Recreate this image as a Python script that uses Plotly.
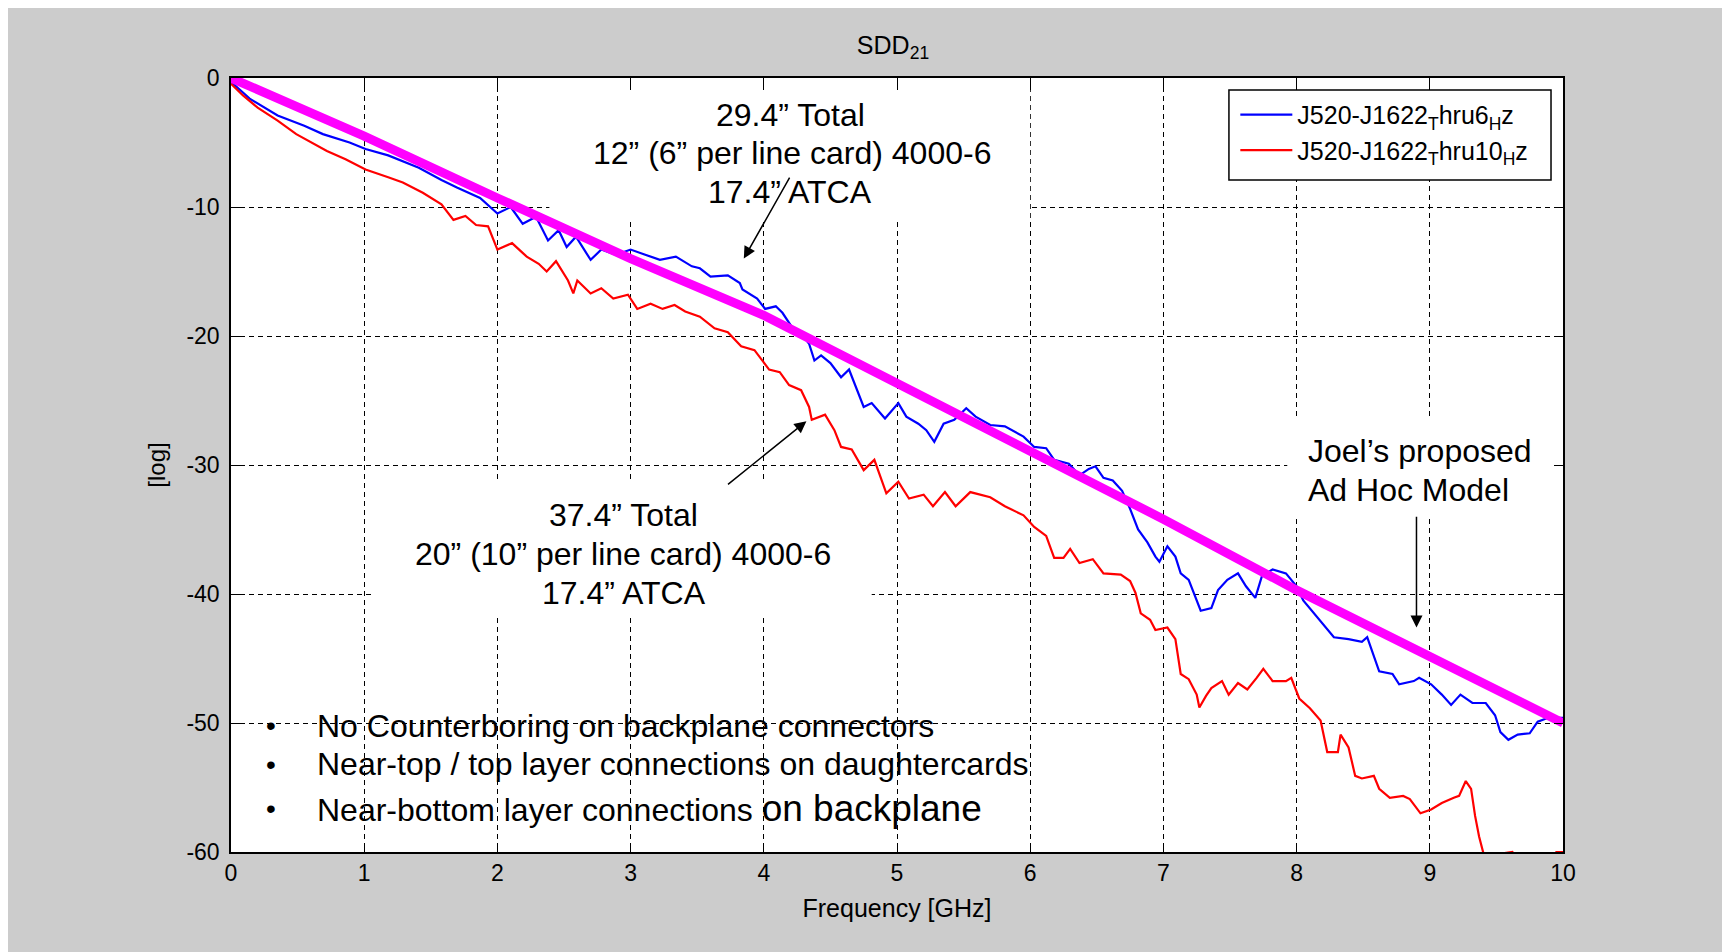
import plotly.graph_objects as go

# ---------------- data ----------------
freq_blue = [0.00, 0.14, 0.35, 0.55, 0.69, 0.89, 1.01, 1.18, 1.41, 1.58, 1.70, 1.87,
             2.00, 2.10, 2.19, 2.29, 2.38, 2.46, 2.52, 2.59, 2.70, 2.78, 2.89, 3.00,
             3.11, 3.22, 3.34, 3.46, 3.52, 3.60, 3.73, 3.82, 3.84, 3.95, 4.01, 4.09,
             4.14, 4.21, 4.28, 4.34, 4.38, 4.43, 4.50, 4.58, 4.64, 4.69, 4.75, 4.81,
             4.91, 5.01, 5.07, 5.16, 5.22, 5.28, 5.35, 5.43, 5.52, 5.59, 5.70, 5.81,
             5.95, 6.03, 6.12, 6.18, 6.29, 6.37, 6.44, 6.49, 6.55, 6.62, 6.69, 6.75,
             6.81, 6.88, 6.94, 6.97, 7.03, 7.09, 7.13, 7.19, 7.23, 7.28, 7.36, 7.41,
             7.48, 7.56, 7.62, 7.69, 7.74, 7.82, 7.92, 8.00, 8.05, 8.13, 8.20, 8.28,
             8.39, 8.49, 8.53, 8.59, 8.62, 8.72, 8.77, 8.88, 8.92, 9.01, 9.09, 9.16,
             9.23, 9.32, 9.42, 9.49, 9.53, 9.59, 9.66, 9.75, 9.81, 9.89, 10.0]
sdd_blue = [-0.3, -1.6, -2.9, -3.7, -4.35, -5.0, -5.5, -6.0, -6.95, -7.9, -8.5, -9.3,
            -10.5, -10.0, -11.3, -10.75, -12.6, -11.8, -13.1, -12.3, -14.1, -13.3, -13.7, -13.3,
            -13.7, -14.1, -13.85, -14.6, -14.75, -15.4, -15.3, -15.9, -16.4, -17.1, -17.9, -17.7,
            -18.2, -19.3, -19.8, -20.6, -21.9, -21.5, -22.1, -23.2, -22.6, -23.9, -25.5, -25.2,
            -26.4, -25.2, -26.25, -26.8, -27.3, -28.2, -26.8, -26.5, -25.6, -26.25, -26.9, -27.0,
            -27.8, -28.6, -28.7, -29.6, -29.9, -30.8, -30.3, -30.1, -31.0, -31.2, -32.0, -33.4,
            -35.0, -36.0, -37.1, -37.5, -36.3, -37.1, -38.4, -38.9, -39.9, -41.3, -41.1, -39.7,
            -38.9, -38.4, -39.4, -40.3, -38.6, -38.1, -38.4, -39.4, -40.5, -41.5, -42.3, -43.35,
            -43.5, -43.7, -43.35, -45.2, -46.0, -46.2, -47.0, -46.75, -46.5, -47.0, -47.8, -48.6,
            -47.8, -48.45, -48.45, -49.4, -50.7, -51.3, -50.9, -50.8, -49.9, -49.6, -49.6]

freq_red = [0.00, 0.09, 0.20, 0.35, 0.49, 0.60, 0.72, 0.86, 1.01, 1.18, 1.29, 1.44,
            1.58, 1.67, 1.76, 1.84, 1.93, 2.00, 2.11, 2.22, 2.31, 2.37, 2.44, 2.53,
            2.57, 2.60, 2.70, 2.78, 2.87, 2.98, 3.05, 3.15, 3.24, 3.33, 3.41, 3.52,
            3.63, 3.73, 3.83, 3.93, 4.04, 4.12, 4.19, 4.28, 4.34, 4.36, 4.46, 4.53,
            4.58, 4.66, 4.75, 4.83, 4.92, 5.01, 5.09, 5.20, 5.27, 5.36, 5.44, 5.55,
            5.70, 5.81, 5.95, 6.03, 6.12, 6.18, 6.25, 6.30, 6.37, 6.47, 6.55, 6.68,
            6.75, 6.79, 6.83, 6.90, 6.94, 7.03, 7.09, 7.13, 7.19, 7.25, 7.27, 7.32,
            7.36, 7.44, 7.49, 7.56, 7.63, 7.70, 7.75, 7.82, 7.92, 7.96, 8.02, 8.10,
            8.18, 8.23, 8.31, 8.33, 8.39, 8.44, 8.49, 8.58, 8.62, 8.70, 8.80, 8.85,
            8.93, 9.01, 9.09, 9.18, 9.22, 9.27, 9.31, 9.34, 9.37, 9.40, 9.45, 9.55,
            9.62, 9.70, 9.90, 9.95, 10.0]
sdd_red = [-0.45, -1.35, -2.3, -3.3, -4.35, -5.0, -5.65, -6.3, -7.1, -7.7, -8.1, -8.9,
           -9.8, -11.0, -10.7, -11.4, -11.5, -13.3, -12.8, -13.85, -14.4, -15.0, -14.2, -15.7,
           -16.7, -15.7, -16.7, -16.3, -17.1, -16.8, -17.9, -17.5, -17.9, -17.6, -18.1, -18.5,
           -19.4, -19.7, -20.8, -21.1, -22.6, -22.8, -23.8, -24.2, -25.5, -26.5, -26.1, -27.3,
           -28.6, -28.8, -30.4, -29.6, -32.2, -31.3, -32.6, -32.3, -33.2, -32.1, -33.2, -32.1,
           -32.5, -33.2, -33.9, -34.8, -35.5, -37.2, -37.2, -36.5, -37.6, -37.3, -38.4, -38.5,
           -39.0, -39.9, -41.5, -42.0, -42.8, -42.6, -43.5, -46.2, -46.6, -47.8, -48.8, -47.9,
           -47.3, -46.75, -47.8, -46.9, -47.4, -46.5, -45.8, -46.75, -46.75, -46.5, -48.1, -48.85,
           -49.8, -52.25, -52.25, -50.9, -51.9, -54.1, -54.3, -54.1, -55.1, -55.8, -55.65, -55.9,
           -57.0, -56.7, -56.2, -55.8, -55.65, -54.5, -55.1, -57.2, -58.8, -60.0, -61.0, -60.1,
           -60.0, -61.0, -61.0, -60.0, -60.0]

# Joel's proposed ad hoc model (magenta), read at every GHz
freq_model = [0, 1, 2, 3, 4, 5, 6, 7, 8, 9, 10]
sdd_model = [0.0, -4.5, -9.3, -14.0, -18.4, -23.7, -29.0, -34.2, -39.7, -44.8, -50.0]

series_names = ["J520-J1622<sub>T</sub>hru6<sub>H</sub>z",
                "J520-J1622<sub>T</sub>hru10<sub>H</sub>z"]

x_ticks = list(range(0, 11))
y_ticks = [0, -10, -20, -30, -40, -50, -60]

FONT = "Liberation Sans, Arial, sans-serif"

fig = go.Figure()
fig.add_trace(go.Scatter(x=freq_blue, y=sdd_blue, mode="lines", name=series_names[0],
                         line=dict(color="#0000ff", width=2.2)))
fig.add_trace(go.Scatter(x=freq_red, y=sdd_red, mode="lines", name=series_names[1],
                         line=dict(color="#ff0000", width=2.2)))
fig.add_trace(go.Scatter(x=freq_model, y=sdd_model, mode="lines", showlegend=False,
                         line=dict(color="#ff00ff", width=9)))

# white boxes behind the callout texts
boxes = [(2.39, 6.0, -11.0, -0.93), (1.06, 4.81, -41.6, -31.4), (7.93, 9.93, -34.1, -26.5)]
shapes = []
for x0, x1, y0, y1 in boxes:
    shapes.append(dict(type="rect", xref="x", yref="y", x0=x0, x1=x1, y0=y0, y1=y1,
                       fillcolor="white", line=dict(width=0), layer="between"))
# legend frame
shapes.append(dict(type="rect", xref="paper", yref="paper", x0=0.7492, x1=0.991,
                   y0=0.8682, y1=0.9845, fillcolor="white",
                   line=dict(color="black", width=1.5), layer="above"))
# white edge at the right of the picture
shapes.append(dict(type="rect", xref="paper", yref="paper", x0=1.1224, x1=1.2, y0=-0.2, y1=1.2,
                   fillcolor="white", line=dict(width=0), layer="below"))

ann = []
def txt(x, y, s, size=32, xanchor="center"):
    ann.append(dict(x=x, y=y, xref="x", yref="y", text=s, showarrow=False,
                    xanchor=xanchor, yanchor="middle",
                    font=dict(family=FONT, size=size, color="black")))

txt(4.20, -2.84, "29.4” Total")
txt(4.21, -5.84, "12” (6” per line card) 4000-6")
txt(4.20, -8.84, "17.4” ATCA")
txt(2.95, -33.9, "37.4” Total")
txt(2.94, -36.9, "20” (10” per line card) 4000-6")
txt(2.95, -39.9, "17.4” ATCA")
txt(8.07, -28.9, "Joel’s proposed", xanchor="left")
txt(8.07, -31.9, "Ad Hoc Model", xanchor="left")
for yy in (-50.2, -53.2, -56.6):
    txt(0.303, yy, "•", size=28)
txt(0.634, -50.2, "No Counterboring on backplane connectors", xanchor="left")
txt(0.634, -53.2, "Near-top / top layer connections on daughtercards", xanchor="left")
txt(0.634, -56.6, "Near-bottom layer connections <span style='font-size:37px'>on backplane</span>",
    xanchor="left")

def arrow(xt, yt, xs, ys):
    ann.append(dict(x=xt, y=yt, ax=xs, ay=ys, xref="x", yref="y", axref="x", ayref="y",
                    text="", showarrow=True, arrowhead=2, arrowsize=1.6, arrowwidth=1.5,
                    arrowcolor="black", standoff=0, startstandoff=0))

arrow(3.85, -14.0, 4.20, -7.6)
arrow(4.32, -26.6, 3.72, -31.6)
arrow(8.90, -42.6, 8.90, -33.9)

axis_common = dict(showgrid=True, gridcolor="black", gridwidth=1, griddash="5px,4px",
                   showline=True, linecolor="black", linewidth=1.5, mirror="ticks",
                   ticks="inside", ticklen=9, tickcolor="black", tickwidth=1,
                   zeroline=False, tickfont=dict(family=FONT, size=23, color="black"))

# the page body has an 8px margin: the figure is sized and offset to compensate
fig.update_layout(
    width=1722, height=944,
    margin=dict(l=223, r=167, t=70, b=100),
    paper_bgcolor="#cccccc", plot_bgcolor="white",
    font=dict(family=FONT, color="black"),
    title=dict(text="SDD<sub>21</sub>", x=0.497, xref="paper", xanchor="center",
               y=0.961, yref="container", yanchor="middle",
               font=dict(family=FONT, size=25, color="black")),
    xaxis=dict(range=[0, 10], tickvals=x_ticks, ticktext=[str(v) for v in x_ticks],
               title=dict(text="Frequency [GHz]", font=dict(family=FONT, size=25), standoff=14),
               **axis_common),
    yaxis=dict(range=[-60, 0], tickvals=y_ticks, ticktext=[str(v) for v in y_ticks],
               ticklabelstandoff=5,
               title=dict(text="[log]", font=dict(family=FONT, size=24), standoff=14),
               **axis_common),
    legend=dict(x=0.754, y=0.982, xanchor="left", yanchor="top",
                bgcolor="rgba(0,0,0,0)", borderwidth=0, itemwidth=52,
                font=dict(family=FONT, size=25, color="black")),
    shapes=shapes, annotations=ann,
)

fig.write_html("out.html")
